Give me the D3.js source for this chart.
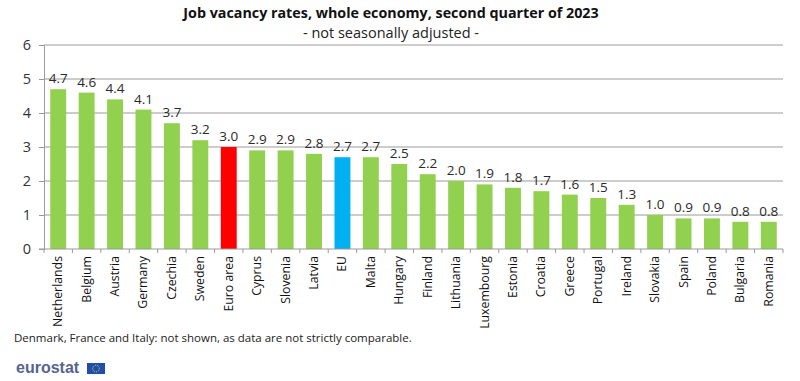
<!DOCTYPE html>
<html>
<head>
<meta charset="utf-8">
<script src="https://cdn.jsdelivr.net/npm/d3@7"></script>
<style>
  html, body { margin: 0; padding: 0; background: #fff; }
  svg { display: block; font-family: "Open Sans", "Liberation Sans", sans-serif; }
</style>
</head>
<body>
<svg id="chart" width="800" height="381"></svg>
<script>
// data
const countries = ["Netherlands", "Belgium", "Austria", "Germany", "Czechia", "Sweden", "Euro area",
    "Cyprus", "Slovenia", "Latvia", "EU", "Malta", "Hungary", "Finland", "Lithuania", "Luxembourg",
    "Estonia", "Croatia", "Greece", "Portugal", "Ireland", "Slovakia", "Spain", "Poland", "Bulgaria", "Romania"];
const rates = [4.7, 4.6, 4.4, 4.1, 3.7, 3.2, 3.0, 2.9, 2.9, 2.8, 2.7, 2.7, 2.5, 2.2, 2.0, 1.9,
    1.8, 1.7, 1.6, 1.5, 1.3, 1.0, 0.9, 0.9, 0.8, 0.8];
const yTicks = [0, 1, 2, 3, 4, 5, 6];
const highlight = { "Euro area": "#ff0000", "EU": "#00b0f0" };

const W = 800, H = 381;
const M = { left: 44, right: 783, top: 45, bottom: 249 };

const svg = d3.select("#chart");

const x = d3.scaleBand().domain(countries).range([M.left, M.right]).paddingInner(0.44).paddingOuter(0.22);
const y = d3.scaleLinear().domain([0, 6]).range([M.bottom, M.top]);

// ── Title ────────────────────────────────────────────────────────
svg.append("text")
    .attr("x", 391).attr("y", 18)
    .attr("text-anchor", "middle").attr("fill", "#111")
    .attr("font-size", 14.3).attr("font-weight", "700")
    .text("Job vacancy rates, whole economy, second quarter of 2023");

svg.append("text")
    .attr("x", 391).attr("y", 38)
    .attr("text-anchor", "middle").attr("fill", "#222")
    .attr("font-size", 14.5)
    .text("- not seasonally adjusted -");

// ── Grid + y axis ────────────────────────────────────────────────
svg.append("g")
    .selectAll("line").data(yTicks.filter(t => t > 0)).join("line")
    .attr("x1", M.left).attr("x2", M.right)
    .attr("y1", d => y(d)).attr("y2", d => y(d))
    .attr("stroke", "#9a9a9a").attr("stroke-width", 1);

const yAxis = svg.append("g")
    .attr("transform", `translate(${M.left},0)`)
    .call(d3.axisLeft(y).tickValues(yTicks).tickSize(5).tickFormat(d3.format("d")).tickPadding(8));
yAxis.select(".domain").attr("stroke", "#9a9a9a");
yAxis.selectAll(".tick line").attr("stroke", "#9a9a9a");
yAxis.selectAll("text").attr("font-size", 14.5).attr("fill", "#333")
    .attr("font-family", "\"Open Sans\", sans-serif");

// ── Bars ─────────────────────────────────────────────────────────
const data = countries.map((c, i) => ({ c, v: rates[i] }));

svg.append("g").selectAll("rect").data(data).join("rect")
    .attr("x", d => x(d.c)).attr("width", x.bandwidth())
    .attr("y", d => y(d.v)).attr("height", d => y(0) - y(d.v))
    .attr("fill", d => highlight[d.c] || "#92d050");

svg.append("g").selectAll("text").data(data).join("text")
    .attr("x", d => x(d.c) + x.bandwidth() / 2)
    .attr("y", d => y(d.v) - 6)
    .attr("text-anchor", "middle").attr("fill", "#2a2a2a").attr("font-size", 13.5)
    .text(d => d.v.toFixed(1));

// ── X axis ───────────────────────────────────────────────────────
const step = x.step();
svg.append("line")
    .attr("x1", M.left - 5).attr("x2", M.right)
    .attr("y1", y(0)).attr("y2", y(0))
    .attr("stroke", "#9a9a9a");

svg.append("g").selectAll("line").data(d3.range(countries.length + 1)).join("line")
    .attr("x1", i => M.left + i * step).attr("x2", i => M.left + i * step)
    .attr("y1", y(0)).attr("y2", y(0) + 4)
    .attr("stroke", "#9a9a9a");

svg.append("g").selectAll("text").data(countries).join("text")
    .attr("transform", d => `translate(${x(d) + x.bandwidth() / 2 + 4},${y(0) + 7}) rotate(-90)`)
    .attr("text-anchor", "end").attr("fill", "#111").attr("font-size", 12.3)
    .text(d => d);

// ── Footnote + logo ──────────────────────────────────────────────
svg.append("text")
    .attr("x", 14).attr("y", 342)
    .attr("fill", "#222").attr("font-size", 11.5)
    .text("Denmark, France and Italy: not shown, as data are not strictly comparable.");

svg.append("text")
    .attr("x", 16).attr("y", 373)
    .attr("fill", "#56648c").attr("font-size", 16).attr("font-weight", "700")
    .attr("font-family", "\"Liberation Sans\", sans-serif")
    .text("eurostat");

svg.append("rect")
    .attr("x", 87).attr("y", 363).attr("width", 18).attr("height", 11)
    .attr("fill", "#1f4fa8");
svg.append("circle")
    .attr("cx", 96).attr("cy", 368.5).attr("r", 3.3)
    .attr("fill", "none").attr("stroke", "#e8d44d").attr("stroke-width", 1).attr("stroke-dasharray", "1 1");
</script>
</body>
</html>
